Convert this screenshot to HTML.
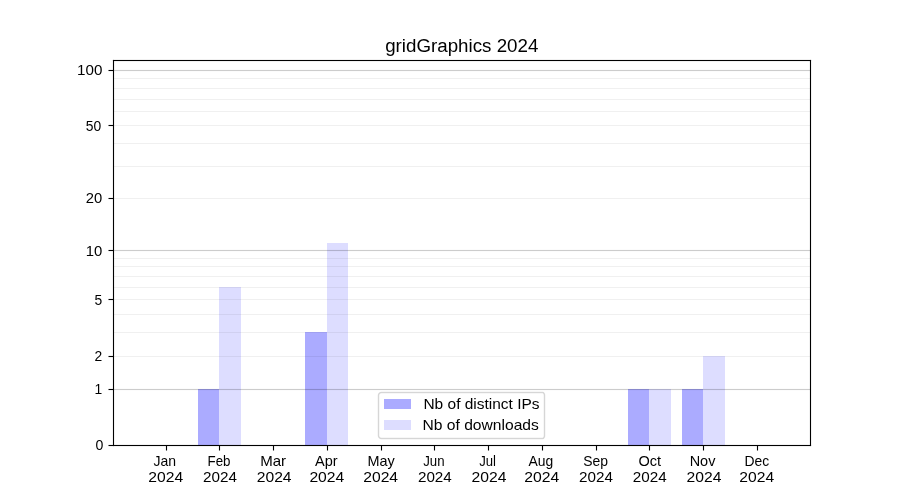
<!DOCTYPE html>
<html><head><meta charset="utf-8"><title>gridGraphics 2024</title>
<style>
html,body{margin:0;padding:0;background:#fff;width:900px;height:500px;overflow:hidden}
svg{display:block}
text{font-family:"Liberation Sans",sans-serif;fill:#000}
</style></head><body>
<svg width="900" height="500" viewBox="0 0 900 500">
<rect x="0" y="0" width="900" height="500" fill="#fff"/>
<g shape-rendering="crispEdges">
<rect x="198" y="389" width="21" height="56" fill="#ababff"/>
<rect x="219" y="287" width="22" height="158" fill="#ddddff"/>
<rect x="305" y="332" width="22" height="113" fill="#ababff"/>
<rect x="327" y="243" width="21" height="202" fill="#ddddff"/>
<rect x="628" y="389" width="21" height="56" fill="#ababff"/>
<rect x="649" y="389" width="22" height="56" fill="#ddddff"/>
<rect x="682" y="389" width="21" height="56" fill="#ababff"/>
<rect x="703" y="356" width="22" height="89" fill="#ddddff"/>
<rect x="113" y="356" width="697" height="1" fill="#000" fill-opacity="0.06"/>
<rect x="113" y="332" width="697" height="1" fill="#000" fill-opacity="0.06"/>
<rect x="113" y="314" width="697" height="1" fill="#000" fill-opacity="0.06"/>
<rect x="113" y="299" width="697" height="1" fill="#000" fill-opacity="0.06"/>
<rect x="113" y="287" width="697" height="1" fill="#000" fill-opacity="0.06"/>
<rect x="113" y="276" width="697" height="1" fill="#000" fill-opacity="0.06"/>
<rect x="113" y="266" width="697" height="1" fill="#000" fill-opacity="0.06"/>
<rect x="113" y="258" width="697" height="1" fill="#000" fill-opacity="0.06"/>
<rect x="113" y="198" width="697" height="1" fill="#000" fill-opacity="0.06"/>
<rect x="113" y="166" width="697" height="1" fill="#000" fill-opacity="0.06"/>
<rect x="113" y="143" width="697" height="1" fill="#000" fill-opacity="0.06"/>
<rect x="113" y="125" width="697" height="1" fill="#000" fill-opacity="0.06"/>
<rect x="113" y="111" width="697" height="1" fill="#000" fill-opacity="0.06"/>
<rect x="113" y="99" width="697" height="1" fill="#000" fill-opacity="0.06"/>
<rect x="113" y="88" width="697" height="1" fill="#000" fill-opacity="0.06"/>
<rect x="113" y="78" width="697" height="1" fill="#000" fill-opacity="0.06"/>
<rect x="113" y="389" width="697" height="1" fill="#000" fill-opacity="0.2"/>
<rect x="113" y="388" width="697" height="1" fill="#000" fill-opacity="0.0111"/>
<rect x="113" y="390" width="697" height="1" fill="#000" fill-opacity="0.0111"/>
<rect x="113" y="250" width="697" height="1" fill="#000" fill-opacity="0.2"/>
<rect x="113" y="249" width="697" height="1" fill="#000" fill-opacity="0.0111"/>
<rect x="113" y="251" width="697" height="1" fill="#000" fill-opacity="0.0111"/>
<rect x="113" y="70" width="697" height="1" fill="#000" fill-opacity="0.2"/>
<rect x="113" y="69" width="697" height="1" fill="#000" fill-opacity="0.0111"/>
<rect x="113" y="71" width="697" height="1" fill="#000" fill-opacity="0.0111"/>
<rect x="113" y="60" width="698" height="1" fill="#000"/>
<rect x="113" y="59" width="698" height="1" fill="#000" fill-opacity="0.0555"/>
<rect x="113" y="61" width="698" height="1" fill="#000" fill-opacity="0.0555"/>
<rect x="113" y="445" width="698" height="1" fill="#000"/>
<rect x="113" y="444" width="698" height="1" fill="#000" fill-opacity="0.0555"/>
<rect x="113" y="446" width="698" height="1" fill="#000" fill-opacity="0.0555"/>
<rect x="113" y="60" width="1" height="386" fill="#000"/>
<rect x="112" y="60" width="1" height="386" fill="#000" fill-opacity="0.0555"/>
<rect x="114" y="60" width="1" height="386" fill="#000" fill-opacity="0.0555"/>
<rect x="810" y="60" width="1" height="386" fill="#000"/>
<rect x="809" y="60" width="1" height="386" fill="#000" fill-opacity="0.0555"/>
<rect x="811" y="60" width="1" height="386" fill="#000" fill-opacity="0.0555"/>
<rect x="112" y="59" width="1" height="1" fill="#fff"/>
<rect x="112" y="59" width="1" height="1" fill="#000" fill-opacity="0.008"/>
<rect x="113" y="59" width="1" height="1" fill="#fff"/>
<rect x="113" y="59" width="1" height="1" fill="#000" fill-opacity="0.11"/>
<rect x="112" y="60" width="1" height="1" fill="#fff"/>
<rect x="112" y="60" width="1" height="1" fill="#000" fill-opacity="0.11"/>
<rect x="811" y="59" width="1" height="1" fill="#fff"/>
<rect x="811" y="59" width="1" height="1" fill="#000" fill-opacity="0.008"/>
<rect x="810" y="59" width="1" height="1" fill="#fff"/>
<rect x="810" y="59" width="1" height="1" fill="#000" fill-opacity="0.11"/>
<rect x="811" y="60" width="1" height="1" fill="#fff"/>
<rect x="811" y="60" width="1" height="1" fill="#000" fill-opacity="0.11"/>
<rect x="113" y="446" width="1" height="1" fill="#fff"/>
<rect x="113" y="446" width="1" height="1" fill="#000" fill-opacity="0.133"/>
<rect x="811" y="446" width="1" height="1" fill="#fff"/>
<rect x="811" y="446" width="1" height="1" fill="#000" fill-opacity="0.008"/>
<rect x="810" y="446" width="1" height="1" fill="#fff"/>
<rect x="810" y="446" width="1" height="1" fill="#000" fill-opacity="0.11"/>
<rect x="811" y="445" width="1" height="1" fill="#fff"/>
<rect x="811" y="445" width="1" height="1" fill="#000" fill-opacity="0.11"/>
<rect x="166" y="446" width="1" height="4" fill="#000"/>
<rect x="166" y="450" width="1" height="1" fill="#000" fill-opacity="0.5"/>
<rect x="165" y="446" width="1" height="4" fill="#000" fill-opacity="0.0555"/>
<rect x="167" y="446" width="1" height="4" fill="#000" fill-opacity="0.0555"/>
<rect x="165" y="450" width="1" height="1" fill="#000" fill-opacity="0.0275"/>
<rect x="167" y="450" width="1" height="1" fill="#000" fill-opacity="0.0275"/>
<rect x="219" y="446" width="1" height="4" fill="#000"/>
<rect x="219" y="450" width="1" height="1" fill="#000" fill-opacity="0.5"/>
<rect x="218" y="446" width="1" height="4" fill="#000" fill-opacity="0.0555"/>
<rect x="220" y="446" width="1" height="4" fill="#000" fill-opacity="0.0555"/>
<rect x="218" y="450" width="1" height="1" fill="#000" fill-opacity="0.0275"/>
<rect x="220" y="450" width="1" height="1" fill="#000" fill-opacity="0.0275"/>
<rect x="273" y="446" width="1" height="4" fill="#000"/>
<rect x="273" y="450" width="1" height="1" fill="#000" fill-opacity="0.5"/>
<rect x="272" y="446" width="1" height="4" fill="#000" fill-opacity="0.0555"/>
<rect x="274" y="446" width="1" height="4" fill="#000" fill-opacity="0.0555"/>
<rect x="272" y="450" width="1" height="1" fill="#000" fill-opacity="0.0275"/>
<rect x="274" y="450" width="1" height="1" fill="#000" fill-opacity="0.0275"/>
<rect x="327" y="446" width="1" height="4" fill="#000"/>
<rect x="327" y="450" width="1" height="1" fill="#000" fill-opacity="0.5"/>
<rect x="326" y="446" width="1" height="4" fill="#000" fill-opacity="0.0555"/>
<rect x="328" y="446" width="1" height="4" fill="#000" fill-opacity="0.0555"/>
<rect x="326" y="450" width="1" height="1" fill="#000" fill-opacity="0.0275"/>
<rect x="328" y="450" width="1" height="1" fill="#000" fill-opacity="0.0275"/>
<rect x="381" y="446" width="1" height="4" fill="#000"/>
<rect x="381" y="450" width="1" height="1" fill="#000" fill-opacity="0.5"/>
<rect x="380" y="446" width="1" height="4" fill="#000" fill-opacity="0.0555"/>
<rect x="382" y="446" width="1" height="4" fill="#000" fill-opacity="0.0555"/>
<rect x="380" y="450" width="1" height="1" fill="#000" fill-opacity="0.0275"/>
<rect x="382" y="450" width="1" height="1" fill="#000" fill-opacity="0.0275"/>
<rect x="434" y="446" width="1" height="4" fill="#000"/>
<rect x="434" y="450" width="1" height="1" fill="#000" fill-opacity="0.5"/>
<rect x="433" y="446" width="1" height="4" fill="#000" fill-opacity="0.0555"/>
<rect x="435" y="446" width="1" height="4" fill="#000" fill-opacity="0.0555"/>
<rect x="433" y="450" width="1" height="1" fill="#000" fill-opacity="0.0275"/>
<rect x="435" y="450" width="1" height="1" fill="#000" fill-opacity="0.0275"/>
<rect x="488" y="446" width="1" height="4" fill="#000"/>
<rect x="488" y="450" width="1" height="1" fill="#000" fill-opacity="0.5"/>
<rect x="487" y="446" width="1" height="4" fill="#000" fill-opacity="0.0555"/>
<rect x="489" y="446" width="1" height="4" fill="#000" fill-opacity="0.0555"/>
<rect x="487" y="450" width="1" height="1" fill="#000" fill-opacity="0.0275"/>
<rect x="489" y="450" width="1" height="1" fill="#000" fill-opacity="0.0275"/>
<rect x="542" y="446" width="1" height="4" fill="#000"/>
<rect x="542" y="450" width="1" height="1" fill="#000" fill-opacity="0.5"/>
<rect x="541" y="446" width="1" height="4" fill="#000" fill-opacity="0.0555"/>
<rect x="543" y="446" width="1" height="4" fill="#000" fill-opacity="0.0555"/>
<rect x="541" y="450" width="1" height="1" fill="#000" fill-opacity="0.0275"/>
<rect x="543" y="450" width="1" height="1" fill="#000" fill-opacity="0.0275"/>
<rect x="596" y="446" width="1" height="4" fill="#000"/>
<rect x="596" y="450" width="1" height="1" fill="#000" fill-opacity="0.5"/>
<rect x="595" y="446" width="1" height="4" fill="#000" fill-opacity="0.0555"/>
<rect x="597" y="446" width="1" height="4" fill="#000" fill-opacity="0.0555"/>
<rect x="595" y="450" width="1" height="1" fill="#000" fill-opacity="0.0275"/>
<rect x="597" y="450" width="1" height="1" fill="#000" fill-opacity="0.0275"/>
<rect x="649" y="446" width="1" height="4" fill="#000"/>
<rect x="649" y="450" width="1" height="1" fill="#000" fill-opacity="0.5"/>
<rect x="648" y="446" width="1" height="4" fill="#000" fill-opacity="0.0555"/>
<rect x="650" y="446" width="1" height="4" fill="#000" fill-opacity="0.0555"/>
<rect x="648" y="450" width="1" height="1" fill="#000" fill-opacity="0.0275"/>
<rect x="650" y="450" width="1" height="1" fill="#000" fill-opacity="0.0275"/>
<rect x="703" y="446" width="1" height="4" fill="#000"/>
<rect x="703" y="450" width="1" height="1" fill="#000" fill-opacity="0.5"/>
<rect x="702" y="446" width="1" height="4" fill="#000" fill-opacity="0.0555"/>
<rect x="704" y="446" width="1" height="4" fill="#000" fill-opacity="0.0555"/>
<rect x="702" y="450" width="1" height="1" fill="#000" fill-opacity="0.0275"/>
<rect x="704" y="450" width="1" height="1" fill="#000" fill-opacity="0.0275"/>
<rect x="757" y="446" width="1" height="4" fill="#000"/>
<rect x="757" y="450" width="1" height="1" fill="#000" fill-opacity="0.5"/>
<rect x="756" y="446" width="1" height="4" fill="#000" fill-opacity="0.0555"/>
<rect x="758" y="446" width="1" height="4" fill="#000" fill-opacity="0.0555"/>
<rect x="756" y="450" width="1" height="1" fill="#000" fill-opacity="0.0275"/>
<rect x="758" y="450" width="1" height="1" fill="#000" fill-opacity="0.0275"/>
<rect x="109" y="445" width="4" height="1" fill="#000"/>
<rect x="108" y="445" width="1" height="1" fill="#000" fill-opacity="0.5"/>
<rect x="109" y="444" width="4" height="1" fill="#000" fill-opacity="0.0555"/>
<rect x="109" y="446" width="4" height="1" fill="#000" fill-opacity="0.0555"/>
<rect x="108" y="444" width="1" height="1" fill="#000" fill-opacity="0.0275"/>
<rect x="108" y="446" width="1" height="1" fill="#000" fill-opacity="0.0275"/>
<rect x="109" y="389" width="4" height="1" fill="#000"/>
<rect x="108" y="389" width="1" height="1" fill="#000" fill-opacity="0.5"/>
<rect x="109" y="388" width="4" height="1" fill="#000" fill-opacity="0.0555"/>
<rect x="109" y="390" width="4" height="1" fill="#000" fill-opacity="0.0555"/>
<rect x="108" y="388" width="1" height="1" fill="#000" fill-opacity="0.0275"/>
<rect x="108" y="390" width="1" height="1" fill="#000" fill-opacity="0.0275"/>
<rect x="109" y="356" width="4" height="1" fill="#000"/>
<rect x="108" y="356" width="1" height="1" fill="#000" fill-opacity="0.5"/>
<rect x="109" y="355" width="4" height="1" fill="#000" fill-opacity="0.0555"/>
<rect x="109" y="357" width="4" height="1" fill="#000" fill-opacity="0.0555"/>
<rect x="108" y="355" width="1" height="1" fill="#000" fill-opacity="0.0275"/>
<rect x="108" y="357" width="1" height="1" fill="#000" fill-opacity="0.0275"/>
<rect x="109" y="299" width="4" height="1" fill="#000"/>
<rect x="108" y="299" width="1" height="1" fill="#000" fill-opacity="0.5"/>
<rect x="109" y="298" width="4" height="1" fill="#000" fill-opacity="0.0555"/>
<rect x="109" y="300" width="4" height="1" fill="#000" fill-opacity="0.0555"/>
<rect x="108" y="298" width="1" height="1" fill="#000" fill-opacity="0.0275"/>
<rect x="108" y="300" width="1" height="1" fill="#000" fill-opacity="0.0275"/>
<rect x="109" y="250" width="4" height="1" fill="#000"/>
<rect x="108" y="250" width="1" height="1" fill="#000" fill-opacity="0.5"/>
<rect x="109" y="249" width="4" height="1" fill="#000" fill-opacity="0.0555"/>
<rect x="109" y="251" width="4" height="1" fill="#000" fill-opacity="0.0555"/>
<rect x="108" y="249" width="1" height="1" fill="#000" fill-opacity="0.0275"/>
<rect x="108" y="251" width="1" height="1" fill="#000" fill-opacity="0.0275"/>
<rect x="109" y="198" width="4" height="1" fill="#000"/>
<rect x="108" y="198" width="1" height="1" fill="#000" fill-opacity="0.5"/>
<rect x="109" y="197" width="4" height="1" fill="#000" fill-opacity="0.0555"/>
<rect x="109" y="199" width="4" height="1" fill="#000" fill-opacity="0.0555"/>
<rect x="108" y="197" width="1" height="1" fill="#000" fill-opacity="0.0275"/>
<rect x="108" y="199" width="1" height="1" fill="#000" fill-opacity="0.0275"/>
<rect x="109" y="125" width="4" height="1" fill="#000"/>
<rect x="108" y="125" width="1" height="1" fill="#000" fill-opacity="0.5"/>
<rect x="109" y="124" width="4" height="1" fill="#000" fill-opacity="0.0555"/>
<rect x="109" y="126" width="4" height="1" fill="#000" fill-opacity="0.0555"/>
<rect x="108" y="124" width="1" height="1" fill="#000" fill-opacity="0.0275"/>
<rect x="108" y="126" width="1" height="1" fill="#000" fill-opacity="0.0275"/>
<rect x="109" y="70" width="4" height="1" fill="#000"/>
<rect x="108" y="70" width="1" height="1" fill="#000" fill-opacity="0.5"/>
<rect x="109" y="69" width="4" height="1" fill="#000" fill-opacity="0.0555"/>
<rect x="109" y="71" width="4" height="1" fill="#000" fill-opacity="0.0555"/>
<rect x="108" y="69" width="1" height="1" fill="#000" fill-opacity="0.0275"/>
<rect x="108" y="71" width="1" height="1" fill="#000" fill-opacity="0.0275"/>
<rect x="380" y="391" width="1" height="1" fill="#000" fill-opacity="0.0118"/>
<rect x="381" y="391" width="162" height="1" fill="#000" fill-opacity="0.0314"/>
<rect x="543" y="391" width="1" height="1" fill="#000" fill-opacity="0.0078"/>
<rect x="378" y="392" width="1" height="1" fill="#000" fill-opacity="0.0039"/>
<rect x="379" y="392" width="1" height="1" fill="#000" fill-opacity="0.098"/>
<rect x="380" y="392" width="163" height="1" fill="#000" fill-opacity="0.1608"/>
<rect x="543" y="392" width="1" height="1" fill="#000" fill-opacity="0.1529"/>
<rect x="544" y="392" width="1" height="1" fill="#000" fill-opacity="0.0235"/>
<rect x="378" y="393" width="1" height="1" fill="#000" fill-opacity="0.098"/>
<rect x="379" y="393" width="1" height="1" fill="#000" fill-opacity="0.1608"/>
<rect x="380" y="393" width="1" height="1" fill="#000" fill-opacity="0.0745"/>
<rect x="381" y="393" width="1" height="1" fill="#000" fill-opacity="0.0353"/>
<rect x="382" y="393" width="160" height="1" fill="#000" fill-opacity="0.0314"/>
<rect x="542" y="393" width="1" height="1" fill="#000" fill-opacity="0.0392"/>
<rect x="543" y="393" width="1" height="1" fill="#000" fill-opacity="0.1412"/>
<rect x="544" y="393" width="1" height="1" fill="#000" fill-opacity="0.1216"/>
<rect x="545" y="393" width="1" height="1" fill="#000" fill-opacity="0.0039"/>
<rect x="377" y="394" width="1" height="1" fill="#000" fill-opacity="0.0118"/>
<rect x="378" y="394" width="1" height="1" fill="#000" fill-opacity="0.1608"/>
<rect x="379" y="394" width="1" height="1" fill="#000" fill-opacity="0.0745"/>
<rect x="543" y="394" width="1" height="1" fill="#000" fill-opacity="0.0588"/>
<rect x="544" y="394" width="1" height="1" fill="#000" fill-opacity="0.1608"/>
<rect x="545" y="394" width="1" height="1" fill="#000" fill-opacity="0.0196"/>
<rect x="377" y="395" width="1" height="1" fill="#000" fill-opacity="0.0314"/>
<rect x="378" y="395" width="1" height="1" fill="#000" fill-opacity="0.1608"/>
<rect x="379" y="395" width="1" height="1" fill="#000" fill-opacity="0.0353"/>
<rect x="543" y="395" width="1" height="1" fill="#000" fill-opacity="0.0353"/>
<rect x="544" y="395" width="1" height="1" fill="#000" fill-opacity="0.1608"/>
<rect x="545" y="395" width="1" height="1" fill="#000" fill-opacity="0.0314"/>
<rect x="377" y="396" width="1" height="1" fill="#000" fill-opacity="0.0314"/>
<rect x="378" y="396" width="1" height="1" fill="#000" fill-opacity="0.1608"/>
<rect x="379" y="396" width="1" height="1" fill="#000" fill-opacity="0.0314"/>
<rect x="543" y="396" width="1" height="1" fill="#000" fill-opacity="0.0314"/>
<rect x="544" y="396" width="1" height="1" fill="#000" fill-opacity="0.1608"/>
<rect x="545" y="396" width="1" height="1" fill="#000" fill-opacity="0.0314"/>
<rect x="377" y="397" width="1" height="1" fill="#000" fill-opacity="0.0314"/>
<rect x="378" y="397" width="1" height="1" fill="#000" fill-opacity="0.1608"/>
<rect x="379" y="397" width="1" height="1" fill="#000" fill-opacity="0.0314"/>
<rect x="543" y="397" width="1" height="1" fill="#000" fill-opacity="0.0314"/>
<rect x="544" y="397" width="1" height="1" fill="#000" fill-opacity="0.1608"/>
<rect x="545" y="397" width="1" height="1" fill="#000" fill-opacity="0.0314"/>
<rect x="377" y="398" width="1" height="1" fill="#000" fill-opacity="0.0314"/>
<rect x="378" y="398" width="1" height="1" fill="#000" fill-opacity="0.1608"/>
<rect x="379" y="398" width="1" height="1" fill="#000" fill-opacity="0.0314"/>
<rect x="543" y="398" width="1" height="1" fill="#000" fill-opacity="0.0314"/>
<rect x="544" y="398" width="1" height="1" fill="#000" fill-opacity="0.1608"/>
<rect x="545" y="398" width="1" height="1" fill="#000" fill-opacity="0.0314"/>
<rect x="377" y="399" width="1" height="1" fill="#000" fill-opacity="0.0314"/>
<rect x="378" y="399" width="1" height="1" fill="#000" fill-opacity="0.1608"/>
<rect x="379" y="399" width="1" height="1" fill="#000" fill-opacity="0.0314"/>
<rect x="543" y="399" width="1" height="1" fill="#000" fill-opacity="0.0314"/>
<rect x="544" y="399" width="1" height="1" fill="#000" fill-opacity="0.1608"/>
<rect x="545" y="399" width="1" height="1" fill="#000" fill-opacity="0.0314"/>
<rect x="377" y="400" width="1" height="1" fill="#000" fill-opacity="0.0314"/>
<rect x="378" y="400" width="1" height="1" fill="#000" fill-opacity="0.1608"/>
<rect x="379" y="400" width="1" height="1" fill="#000" fill-opacity="0.0314"/>
<rect x="543" y="400" width="1" height="1" fill="#000" fill-opacity="0.0314"/>
<rect x="544" y="400" width="1" height="1" fill="#000" fill-opacity="0.1608"/>
<rect x="545" y="400" width="1" height="1" fill="#000" fill-opacity="0.0314"/>
<rect x="377" y="401" width="1" height="1" fill="#000" fill-opacity="0.0314"/>
<rect x="378" y="401" width="1" height="1" fill="#000" fill-opacity="0.1608"/>
<rect x="379" y="401" width="1" height="1" fill="#000" fill-opacity="0.0314"/>
<rect x="543" y="401" width="1" height="1" fill="#000" fill-opacity="0.0314"/>
<rect x="544" y="401" width="1" height="1" fill="#000" fill-opacity="0.1608"/>
<rect x="545" y="401" width="1" height="1" fill="#000" fill-opacity="0.0314"/>
<rect x="377" y="402" width="1" height="1" fill="#000" fill-opacity="0.0314"/>
<rect x="378" y="402" width="1" height="1" fill="#000" fill-opacity="0.1608"/>
<rect x="379" y="402" width="1" height="1" fill="#000" fill-opacity="0.0314"/>
<rect x="543" y="402" width="1" height="1" fill="#000" fill-opacity="0.0314"/>
<rect x="544" y="402" width="1" height="1" fill="#000" fill-opacity="0.1608"/>
<rect x="545" y="402" width="1" height="1" fill="#000" fill-opacity="0.0314"/>
<rect x="377" y="403" width="1" height="1" fill="#000" fill-opacity="0.0314"/>
<rect x="378" y="403" width="1" height="1" fill="#000" fill-opacity="0.1608"/>
<rect x="379" y="403" width="1" height="1" fill="#000" fill-opacity="0.0314"/>
<rect x="543" y="403" width="1" height="1" fill="#000" fill-opacity="0.0314"/>
<rect x="544" y="403" width="1" height="1" fill="#000" fill-opacity="0.1608"/>
<rect x="545" y="403" width="1" height="1" fill="#000" fill-opacity="0.0314"/>
<rect x="377" y="404" width="1" height="1" fill="#000" fill-opacity="0.0314"/>
<rect x="378" y="404" width="1" height="1" fill="#000" fill-opacity="0.1608"/>
<rect x="379" y="404" width="1" height="1" fill="#000" fill-opacity="0.0314"/>
<rect x="543" y="404" width="1" height="1" fill="#000" fill-opacity="0.0314"/>
<rect x="544" y="404" width="1" height="1" fill="#000" fill-opacity="0.1608"/>
<rect x="545" y="404" width="1" height="1" fill="#000" fill-opacity="0.0314"/>
<rect x="377" y="405" width="1" height="1" fill="#000" fill-opacity="0.0314"/>
<rect x="378" y="405" width="1" height="1" fill="#000" fill-opacity="0.1608"/>
<rect x="379" y="405" width="1" height="1" fill="#000" fill-opacity="0.0314"/>
<rect x="543" y="405" width="1" height="1" fill="#000" fill-opacity="0.0314"/>
<rect x="544" y="405" width="1" height="1" fill="#000" fill-opacity="0.1608"/>
<rect x="545" y="405" width="1" height="1" fill="#000" fill-opacity="0.0314"/>
<rect x="377" y="406" width="1" height="1" fill="#000" fill-opacity="0.0314"/>
<rect x="378" y="406" width="1" height="1" fill="#000" fill-opacity="0.1608"/>
<rect x="379" y="406" width="1" height="1" fill="#000" fill-opacity="0.0314"/>
<rect x="543" y="406" width="1" height="1" fill="#000" fill-opacity="0.0314"/>
<rect x="544" y="406" width="1" height="1" fill="#000" fill-opacity="0.1608"/>
<rect x="545" y="406" width="1" height="1" fill="#000" fill-opacity="0.0314"/>
<rect x="377" y="407" width="1" height="1" fill="#000" fill-opacity="0.0314"/>
<rect x="378" y="407" width="1" height="1" fill="#000" fill-opacity="0.1608"/>
<rect x="379" y="407" width="1" height="1" fill="#000" fill-opacity="0.0314"/>
<rect x="543" y="407" width="1" height="1" fill="#000" fill-opacity="0.0314"/>
<rect x="544" y="407" width="1" height="1" fill="#000" fill-opacity="0.1608"/>
<rect x="545" y="407" width="1" height="1" fill="#000" fill-opacity="0.0314"/>
<rect x="377" y="408" width="1" height="1" fill="#000" fill-opacity="0.0314"/>
<rect x="378" y="408" width="1" height="1" fill="#000" fill-opacity="0.1608"/>
<rect x="379" y="408" width="1" height="1" fill="#000" fill-opacity="0.0314"/>
<rect x="543" y="408" width="1" height="1" fill="#000" fill-opacity="0.0314"/>
<rect x="544" y="408" width="1" height="1" fill="#000" fill-opacity="0.1608"/>
<rect x="545" y="408" width="1" height="1" fill="#000" fill-opacity="0.0314"/>
<rect x="377" y="409" width="1" height="1" fill="#000" fill-opacity="0.0314"/>
<rect x="378" y="409" width="1" height="1" fill="#000" fill-opacity="0.1608"/>
<rect x="379" y="409" width="1" height="1" fill="#000" fill-opacity="0.0314"/>
<rect x="543" y="409" width="1" height="1" fill="#000" fill-opacity="0.0314"/>
<rect x="544" y="409" width="1" height="1" fill="#000" fill-opacity="0.1608"/>
<rect x="545" y="409" width="1" height="1" fill="#000" fill-opacity="0.0314"/>
<rect x="377" y="410" width="1" height="1" fill="#000" fill-opacity="0.0314"/>
<rect x="378" y="410" width="1" height="1" fill="#000" fill-opacity="0.1608"/>
<rect x="379" y="410" width="1" height="1" fill="#000" fill-opacity="0.0314"/>
<rect x="543" y="410" width="1" height="1" fill="#000" fill-opacity="0.0314"/>
<rect x="544" y="410" width="1" height="1" fill="#000" fill-opacity="0.1608"/>
<rect x="545" y="410" width="1" height="1" fill="#000" fill-opacity="0.0314"/>
<rect x="377" y="411" width="1" height="1" fill="#000" fill-opacity="0.0314"/>
<rect x="378" y="411" width="1" height="1" fill="#000" fill-opacity="0.1608"/>
<rect x="379" y="411" width="1" height="1" fill="#000" fill-opacity="0.0314"/>
<rect x="543" y="411" width="1" height="1" fill="#000" fill-opacity="0.0314"/>
<rect x="544" y="411" width="1" height="1" fill="#000" fill-opacity="0.1608"/>
<rect x="545" y="411" width="1" height="1" fill="#000" fill-opacity="0.0314"/>
<rect x="377" y="412" width="1" height="1" fill="#000" fill-opacity="0.0314"/>
<rect x="378" y="412" width="1" height="1" fill="#000" fill-opacity="0.1608"/>
<rect x="379" y="412" width="1" height="1" fill="#000" fill-opacity="0.0314"/>
<rect x="543" y="412" width="1" height="1" fill="#000" fill-opacity="0.0314"/>
<rect x="544" y="412" width="1" height="1" fill="#000" fill-opacity="0.1608"/>
<rect x="545" y="412" width="1" height="1" fill="#000" fill-opacity="0.0314"/>
<rect x="377" y="413" width="1" height="1" fill="#000" fill-opacity="0.0314"/>
<rect x="378" y="413" width="1" height="1" fill="#000" fill-opacity="0.1608"/>
<rect x="379" y="413" width="1" height="1" fill="#000" fill-opacity="0.0314"/>
<rect x="543" y="413" width="1" height="1" fill="#000" fill-opacity="0.0314"/>
<rect x="544" y="413" width="1" height="1" fill="#000" fill-opacity="0.1608"/>
<rect x="545" y="413" width="1" height="1" fill="#000" fill-opacity="0.0314"/>
<rect x="377" y="414" width="1" height="1" fill="#000" fill-opacity="0.0314"/>
<rect x="378" y="414" width="1" height="1" fill="#000" fill-opacity="0.1608"/>
<rect x="379" y="414" width="1" height="1" fill="#000" fill-opacity="0.0314"/>
<rect x="543" y="414" width="1" height="1" fill="#000" fill-opacity="0.0314"/>
<rect x="544" y="414" width="1" height="1" fill="#000" fill-opacity="0.1608"/>
<rect x="545" y="414" width="1" height="1" fill="#000" fill-opacity="0.0314"/>
<rect x="377" y="415" width="1" height="1" fill="#000" fill-opacity="0.0314"/>
<rect x="378" y="415" width="1" height="1" fill="#000" fill-opacity="0.1608"/>
<rect x="379" y="415" width="1" height="1" fill="#000" fill-opacity="0.0314"/>
<rect x="543" y="415" width="1" height="1" fill="#000" fill-opacity="0.0314"/>
<rect x="544" y="415" width="1" height="1" fill="#000" fill-opacity="0.1608"/>
<rect x="545" y="415" width="1" height="1" fill="#000" fill-opacity="0.0314"/>
<rect x="377" y="416" width="1" height="1" fill="#000" fill-opacity="0.0314"/>
<rect x="378" y="416" width="1" height="1" fill="#000" fill-opacity="0.1608"/>
<rect x="379" y="416" width="1" height="1" fill="#000" fill-opacity="0.0314"/>
<rect x="543" y="416" width="1" height="1" fill="#000" fill-opacity="0.0314"/>
<rect x="544" y="416" width="1" height="1" fill="#000" fill-opacity="0.1608"/>
<rect x="545" y="416" width="1" height="1" fill="#000" fill-opacity="0.0314"/>
<rect x="377" y="417" width="1" height="1" fill="#000" fill-opacity="0.0314"/>
<rect x="378" y="417" width="1" height="1" fill="#000" fill-opacity="0.1608"/>
<rect x="379" y="417" width="1" height="1" fill="#000" fill-opacity="0.0314"/>
<rect x="543" y="417" width="1" height="1" fill="#000" fill-opacity="0.0314"/>
<rect x="544" y="417" width="1" height="1" fill="#000" fill-opacity="0.1608"/>
<rect x="545" y="417" width="1" height="1" fill="#000" fill-opacity="0.0314"/>
<rect x="377" y="418" width="1" height="1" fill="#000" fill-opacity="0.0314"/>
<rect x="378" y="418" width="1" height="1" fill="#000" fill-opacity="0.1608"/>
<rect x="379" y="418" width="1" height="1" fill="#000" fill-opacity="0.0314"/>
<rect x="543" y="418" width="1" height="1" fill="#000" fill-opacity="0.0314"/>
<rect x="544" y="418" width="1" height="1" fill="#000" fill-opacity="0.1608"/>
<rect x="545" y="418" width="1" height="1" fill="#000" fill-opacity="0.0314"/>
<rect x="377" y="419" width="1" height="1" fill="#000" fill-opacity="0.0314"/>
<rect x="378" y="419" width="1" height="1" fill="#000" fill-opacity="0.1608"/>
<rect x="379" y="419" width="1" height="1" fill="#000" fill-opacity="0.0314"/>
<rect x="543" y="419" width="1" height="1" fill="#000" fill-opacity="0.0314"/>
<rect x="544" y="419" width="1" height="1" fill="#000" fill-opacity="0.1608"/>
<rect x="545" y="419" width="1" height="1" fill="#000" fill-opacity="0.0314"/>
<rect x="377" y="420" width="1" height="1" fill="#000" fill-opacity="0.0314"/>
<rect x="378" y="420" width="1" height="1" fill="#000" fill-opacity="0.1608"/>
<rect x="379" y="420" width="1" height="1" fill="#000" fill-opacity="0.0314"/>
<rect x="543" y="420" width="1" height="1" fill="#000" fill-opacity="0.0314"/>
<rect x="544" y="420" width="1" height="1" fill="#000" fill-opacity="0.1608"/>
<rect x="545" y="420" width="1" height="1" fill="#000" fill-opacity="0.0314"/>
<rect x="377" y="421" width="1" height="1" fill="#000" fill-opacity="0.0314"/>
<rect x="378" y="421" width="1" height="1" fill="#000" fill-opacity="0.1608"/>
<rect x="379" y="421" width="1" height="1" fill="#000" fill-opacity="0.0314"/>
<rect x="543" y="421" width="1" height="1" fill="#000" fill-opacity="0.0314"/>
<rect x="544" y="421" width="1" height="1" fill="#000" fill-opacity="0.1608"/>
<rect x="545" y="421" width="1" height="1" fill="#000" fill-opacity="0.0314"/>
<rect x="377" y="422" width="1" height="1" fill="#000" fill-opacity="0.0314"/>
<rect x="378" y="422" width="1" height="1" fill="#000" fill-opacity="0.1608"/>
<rect x="379" y="422" width="1" height="1" fill="#000" fill-opacity="0.0314"/>
<rect x="543" y="422" width="1" height="1" fill="#000" fill-opacity="0.0314"/>
<rect x="544" y="422" width="1" height="1" fill="#000" fill-opacity="0.1608"/>
<rect x="545" y="422" width="1" height="1" fill="#000" fill-opacity="0.0314"/>
<rect x="377" y="423" width="1" height="1" fill="#000" fill-opacity="0.0314"/>
<rect x="378" y="423" width="1" height="1" fill="#000" fill-opacity="0.1608"/>
<rect x="379" y="423" width="1" height="1" fill="#000" fill-opacity="0.0314"/>
<rect x="543" y="423" width="1" height="1" fill="#000" fill-opacity="0.0314"/>
<rect x="544" y="423" width="1" height="1" fill="#000" fill-opacity="0.1608"/>
<rect x="545" y="423" width="1" height="1" fill="#000" fill-opacity="0.0314"/>
<rect x="377" y="424" width="1" height="1" fill="#000" fill-opacity="0.0314"/>
<rect x="378" y="424" width="1" height="1" fill="#000" fill-opacity="0.1608"/>
<rect x="379" y="424" width="1" height="1" fill="#000" fill-opacity="0.0314"/>
<rect x="543" y="424" width="1" height="1" fill="#000" fill-opacity="0.0314"/>
<rect x="544" y="424" width="1" height="1" fill="#000" fill-opacity="0.1608"/>
<rect x="545" y="424" width="1" height="1" fill="#000" fill-opacity="0.0314"/>
<rect x="377" y="425" width="1" height="1" fill="#000" fill-opacity="0.0314"/>
<rect x="378" y="425" width="1" height="1" fill="#000" fill-opacity="0.1608"/>
<rect x="379" y="425" width="1" height="1" fill="#000" fill-opacity="0.0314"/>
<rect x="543" y="425" width="1" height="1" fill="#000" fill-opacity="0.0314"/>
<rect x="544" y="425" width="1" height="1" fill="#000" fill-opacity="0.1608"/>
<rect x="545" y="425" width="1" height="1" fill="#000" fill-opacity="0.0314"/>
<rect x="377" y="426" width="1" height="1" fill="#000" fill-opacity="0.0314"/>
<rect x="378" y="426" width="1" height="1" fill="#000" fill-opacity="0.1608"/>
<rect x="379" y="426" width="1" height="1" fill="#000" fill-opacity="0.0314"/>
<rect x="543" y="426" width="1" height="1" fill="#000" fill-opacity="0.0314"/>
<rect x="544" y="426" width="1" height="1" fill="#000" fill-opacity="0.1608"/>
<rect x="545" y="426" width="1" height="1" fill="#000" fill-opacity="0.0314"/>
<rect x="377" y="427" width="1" height="1" fill="#000" fill-opacity="0.0314"/>
<rect x="378" y="427" width="1" height="1" fill="#000" fill-opacity="0.1608"/>
<rect x="379" y="427" width="1" height="1" fill="#000" fill-opacity="0.0314"/>
<rect x="543" y="427" width="1" height="1" fill="#000" fill-opacity="0.0314"/>
<rect x="544" y="427" width="1" height="1" fill="#000" fill-opacity="0.1608"/>
<rect x="545" y="427" width="1" height="1" fill="#000" fill-opacity="0.0314"/>
<rect x="377" y="428" width="1" height="1" fill="#000" fill-opacity="0.0314"/>
<rect x="378" y="428" width="1" height="1" fill="#000" fill-opacity="0.1608"/>
<rect x="379" y="428" width="1" height="1" fill="#000" fill-opacity="0.0314"/>
<rect x="543" y="428" width="1" height="1" fill="#000" fill-opacity="0.0314"/>
<rect x="544" y="428" width="1" height="1" fill="#000" fill-opacity="0.1608"/>
<rect x="545" y="428" width="1" height="1" fill="#000" fill-opacity="0.0314"/>
<rect x="377" y="429" width="1" height="1" fill="#000" fill-opacity="0.0314"/>
<rect x="378" y="429" width="1" height="1" fill="#000" fill-opacity="0.1608"/>
<rect x="379" y="429" width="1" height="1" fill="#000" fill-opacity="0.0314"/>
<rect x="543" y="429" width="1" height="1" fill="#000" fill-opacity="0.0314"/>
<rect x="544" y="429" width="1" height="1" fill="#000" fill-opacity="0.1608"/>
<rect x="545" y="429" width="1" height="1" fill="#000" fill-opacity="0.0314"/>
<rect x="377" y="430" width="1" height="1" fill="#000" fill-opacity="0.0314"/>
<rect x="378" y="430" width="1" height="1" fill="#000" fill-opacity="0.1608"/>
<rect x="379" y="430" width="1" height="1" fill="#000" fill-opacity="0.0314"/>
<rect x="543" y="430" width="1" height="1" fill="#000" fill-opacity="0.0314"/>
<rect x="544" y="430" width="1" height="1" fill="#000" fill-opacity="0.1608"/>
<rect x="545" y="430" width="1" height="1" fill="#000" fill-opacity="0.0314"/>
<rect x="377" y="431" width="1" height="1" fill="#000" fill-opacity="0.0314"/>
<rect x="378" y="431" width="1" height="1" fill="#000" fill-opacity="0.1608"/>
<rect x="379" y="431" width="1" height="1" fill="#000" fill-opacity="0.0314"/>
<rect x="543" y="431" width="1" height="1" fill="#000" fill-opacity="0.0314"/>
<rect x="544" y="431" width="1" height="1" fill="#000" fill-opacity="0.1608"/>
<rect x="545" y="431" width="1" height="1" fill="#000" fill-opacity="0.0314"/>
<rect x="377" y="432" width="1" height="1" fill="#000" fill-opacity="0.0314"/>
<rect x="378" y="432" width="1" height="1" fill="#000" fill-opacity="0.1608"/>
<rect x="379" y="432" width="1" height="1" fill="#000" fill-opacity="0.0314"/>
<rect x="543" y="432" width="1" height="1" fill="#000" fill-opacity="0.0314"/>
<rect x="544" y="432" width="1" height="1" fill="#000" fill-opacity="0.1608"/>
<rect x="545" y="432" width="1" height="1" fill="#000" fill-opacity="0.0314"/>
<rect x="377" y="433" width="1" height="1" fill="#000" fill-opacity="0.0314"/>
<rect x="378" y="433" width="1" height="1" fill="#000" fill-opacity="0.1608"/>
<rect x="379" y="433" width="1" height="1" fill="#000" fill-opacity="0.0314"/>
<rect x="543" y="433" width="1" height="1" fill="#000" fill-opacity="0.0314"/>
<rect x="544" y="433" width="1" height="1" fill="#000" fill-opacity="0.1608"/>
<rect x="545" y="433" width="1" height="1" fill="#000" fill-opacity="0.0314"/>
<rect x="377" y="434" width="1" height="1" fill="#000" fill-opacity="0.0314"/>
<rect x="378" y="434" width="1" height="1" fill="#000" fill-opacity="0.1608"/>
<rect x="379" y="434" width="1" height="1" fill="#000" fill-opacity="0.0314"/>
<rect x="543" y="434" width="1" height="1" fill="#000" fill-opacity="0.0314"/>
<rect x="544" y="434" width="1" height="1" fill="#000" fill-opacity="0.1608"/>
<rect x="545" y="434" width="1" height="1" fill="#000" fill-opacity="0.0314"/>
<rect x="377" y="435" width="1" height="1" fill="#000" fill-opacity="0.0314"/>
<rect x="378" y="435" width="1" height="1" fill="#000" fill-opacity="0.1608"/>
<rect x="379" y="435" width="1" height="1" fill="#000" fill-opacity="0.0353"/>
<rect x="543" y="435" width="1" height="1" fill="#000" fill-opacity="0.0353"/>
<rect x="544" y="435" width="1" height="1" fill="#000" fill-opacity="0.1608"/>
<rect x="545" y="435" width="1" height="1" fill="#000" fill-opacity="0.0314"/>
<rect x="377" y="436" width="1" height="1" fill="#000" fill-opacity="0.0118"/>
<rect x="378" y="436" width="1" height="1" fill="#000" fill-opacity="0.1608"/>
<rect x="379" y="436" width="1" height="1" fill="#000" fill-opacity="0.0745"/>
<rect x="543" y="436" width="1" height="1" fill="#000" fill-opacity="0.0588"/>
<rect x="544" y="436" width="1" height="1" fill="#000" fill-opacity="0.1608"/>
<rect x="545" y="436" width="1" height="1" fill="#000" fill-opacity="0.0196"/>
<rect x="378" y="437" width="1" height="1" fill="#000" fill-opacity="0.098"/>
<rect x="379" y="437" width="1" height="1" fill="#000" fill-opacity="0.1608"/>
<rect x="380" y="437" width="1" height="1" fill="#000" fill-opacity="0.0745"/>
<rect x="381" y="437" width="1" height="1" fill="#000" fill-opacity="0.0353"/>
<rect x="382" y="437" width="160" height="1" fill="#000" fill-opacity="0.0314"/>
<rect x="542" y="437" width="1" height="1" fill="#000" fill-opacity="0.0392"/>
<rect x="543" y="437" width="1" height="1" fill="#000" fill-opacity="0.1412"/>
<rect x="544" y="437" width="1" height="1" fill="#000" fill-opacity="0.1216"/>
<rect x="545" y="437" width="1" height="1" fill="#000" fill-opacity="0.0039"/>
<rect x="378" y="438" width="1" height="1" fill="#000" fill-opacity="0.0039"/>
<rect x="379" y="438" width="1" height="1" fill="#000" fill-opacity="0.098"/>
<rect x="380" y="438" width="163" height="1" fill="#000" fill-opacity="0.1608"/>
<rect x="543" y="438" width="1" height="1" fill="#000" fill-opacity="0.1529"/>
<rect x="544" y="438" width="1" height="1" fill="#000" fill-opacity="0.0235"/>
<rect x="380" y="439" width="1" height="1" fill="#000" fill-opacity="0.0118"/>
<rect x="381" y="439" width="162" height="1" fill="#000" fill-opacity="0.0314"/>
<rect x="543" y="439" width="1" height="1" fill="#000" fill-opacity="0.0078"/>
</g>
<g shape-rendering="crispEdges">
<rect x="384" y="399" width="27" height="10" fill="#ababff"/>
<rect x="384" y="420" width="27" height="10" fill="#ddddff"/>
</g>
<g style="will-change:transform">
<text x="385.21" y="52" font-size="18" text-anchor="start" textLength="153.13" lengthAdjust="spacingAndGlyphs">gridGraphics 2024</text>
<text x="95.43" y="449.5" font-size="14.4" text-anchor="start" textLength="7.86" lengthAdjust="spacingAndGlyphs">0</text>
<text x="94.58" y="393.5" font-size="14.4" text-anchor="start" textLength="7.72" lengthAdjust="spacingAndGlyphs">1</text>
<text x="94.58" y="360.5" font-size="14.4" text-anchor="start" textLength="7.72" lengthAdjust="spacingAndGlyphs">2</text>
<text x="94.58" y="304.5" font-size="14.4" text-anchor="start" textLength="7.72" lengthAdjust="spacingAndGlyphs">5</text>
<text x="85.78" y="255.5" font-size="14.4" text-anchor="start" textLength="16.54" lengthAdjust="spacingAndGlyphs">10</text>
<text x="85.85" y="202.5" font-size="14.4" text-anchor="start" textLength="16.47" lengthAdjust="spacingAndGlyphs">20</text>
<text x="85.86" y="130.5" font-size="14.4" text-anchor="start" textLength="15.44" lengthAdjust="spacingAndGlyphs">50</text>
<text x="77.03" y="74.5" font-size="14.4" text-anchor="start" textLength="25.3" lengthAdjust="spacingAndGlyphs">100</text>
<text x="153.41" y="466" font-size="14.4" text-anchor="start" textLength="22.58" lengthAdjust="spacingAndGlyphs">Jan</text>
<text x="148.27" y="482" font-size="14.4" text-anchor="start" textLength="34.89" lengthAdjust="spacingAndGlyphs">2024</text>
<text x="207.5" y="466" font-size="14.4" text-anchor="start" textLength="22.97" lengthAdjust="spacingAndGlyphs">Feb</text>
<text x="203.0" y="482" font-size="14.4" text-anchor="start" textLength="33.86" lengthAdjust="spacingAndGlyphs">2024</text>
<text x="260.15" y="466" font-size="14.4" text-anchor="start" textLength="25.94" lengthAdjust="spacingAndGlyphs">Mar</text>
<text x="256.7" y="482" font-size="14.4" text-anchor="start" textLength="34.89" lengthAdjust="spacingAndGlyphs">2024</text>
<text x="315.12" y="466" font-size="14.4" text-anchor="start" textLength="22.58" lengthAdjust="spacingAndGlyphs">Apr</text>
<text x="309.4" y="482" font-size="14.4" text-anchor="start" textLength="34.89" lengthAdjust="spacingAndGlyphs">2024</text>
<text x="367.52" y="466" font-size="14.4" text-anchor="start" textLength="27.23" lengthAdjust="spacingAndGlyphs">May</text>
<text x="363.21" y="482" font-size="14.4" text-anchor="start" textLength="34.89" lengthAdjust="spacingAndGlyphs">2024</text>
<text x="423.18" y="466" font-size="14.4" text-anchor="start" textLength="21.36" lengthAdjust="spacingAndGlyphs">Jun</text>
<text x="417.94" y="482" font-size="14.4" text-anchor="start" textLength="33.86" lengthAdjust="spacingAndGlyphs">2024</text>
<text x="479.23" y="466" font-size="14.4" text-anchor="start" textLength="16.83" lengthAdjust="spacingAndGlyphs">Jul</text>
<text x="471.64" y="482" font-size="14.4" text-anchor="start" textLength="34.89" lengthAdjust="spacingAndGlyphs">2024</text>
<text x="528.5" y="466" font-size="14.4" text-anchor="start" textLength="24.7" lengthAdjust="spacingAndGlyphs">Aug</text>
<text x="524.3" y="482" font-size="14.4" text-anchor="start" textLength="35.0" lengthAdjust="spacingAndGlyphs">2024</text>
<text x="583.2" y="466" font-size="14.4" text-anchor="start" textLength="24.75" lengthAdjust="spacingAndGlyphs">Sep</text>
<text x="579.14" y="482" font-size="14.4" text-anchor="start" textLength="33.89" lengthAdjust="spacingAndGlyphs">2024</text>
<text x="638.51" y="466" font-size="14.4" text-anchor="start" textLength="22.62" lengthAdjust="spacingAndGlyphs">Oct</text>
<text x="632.88" y="482" font-size="14.4" text-anchor="start" textLength="33.86" lengthAdjust="spacingAndGlyphs">2024</text>
<text x="689.67" y="466" font-size="14.4" text-anchor="start" textLength="25.72" lengthAdjust="spacingAndGlyphs">Nov</text>
<text x="686.58" y="482" font-size="14.4" text-anchor="start" textLength="34.89" lengthAdjust="spacingAndGlyphs">2024</text>
<text x="744.46" y="466" font-size="14.4" text-anchor="start" textLength="24.69" lengthAdjust="spacingAndGlyphs">Dec</text>
<text x="739.35" y="482" font-size="14.4" text-anchor="start" textLength="34.82" lengthAdjust="spacingAndGlyphs">2024</text>
<text x="423.45" y="409" font-size="14.4" text-anchor="start" textLength="116.13" lengthAdjust="spacingAndGlyphs">Nb of distinct IPs</text>
<text x="422.44" y="430" font-size="14.4" text-anchor="start" textLength="116.43" lengthAdjust="spacingAndGlyphs">Nb of downloads</text>
</g>
</svg>
</body></html>
